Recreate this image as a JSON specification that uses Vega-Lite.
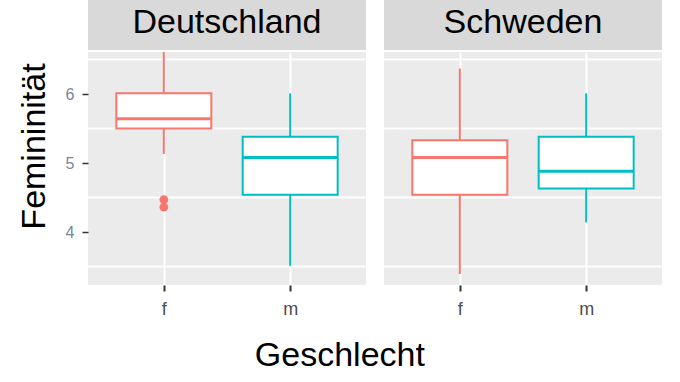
{
  "$schema": "https://vega.github.io/schema/vega-lite/v6.json",
  "padding": {"left": 17, "top": 0, "right": 0, "bottom": 0},
  "background": "white",
  "datasets": {
    "boxes": [
      {"country": "Deutschland", "sex": "f", "lower": 5.13, "q1": 5.5, "median": 5.64, "q3": 6.01, "upper": 6.65},
      {"country": "Deutschland", "sex": "m", "lower": 3.51, "q1": 4.54, "median": 5.08, "q3": 5.38, "upper": 6.01},
      {"country": "Schweden", "sex": "f", "lower": 3.39, "q1": 4.54, "median": 5.08, "q3": 5.33, "upper": 6.37},
      {"country": "Schweden", "sex": "m", "lower": 4.14, "q1": 4.63, "median": 4.88, "q3": 5.38, "upper": 6.01}
    ],
    "outliers": [
      {"country": "Deutschland", "sex": "f", "value": 4.47},
      {"country": "Deutschland", "sex": "f", "value": 4.36}
    ],
    "strips": [
      {"country": "Deutschland"},
      {"country": "Schweden"}
    ]
  },
  "title": {
    "text": "Geschlecht",
    "orient": "bottom",
    "anchor": "middle",
    "fontSize": 34,
    "fontWeight": "normal",
    "font": "Liberation Sans",
    "color": "black",
    "offset": 21
  },
  "spacing": 16,
  "hconcat": [
    {
      "spacing": 2,
      "vconcat": [
        {
          "width": 278,
          "height": 50,
          "view": {"fill": "#D9D9D9", "stroke": null},
          "data": {"name": "strips"},
          "transform": [{"filter": "datum.country === 'Deutschland'"}],
          "mark": {"type": "text", "fontSize": 34, "font": "Liberation Sans", "color": "black", "dy": -2},
          "encoding": {"text": {"field": "country"}}
        },
        {
          "width": 278,
          "height": 233,
          "view": {"fill": "#EBEBEB", "stroke": null},
          "data": {"name": "boxes"},
          "transform": [{"filter": "datum.country === 'Deutschland'"}],
          "resolve": {"axis": {"y": "independent"}},
          "layer": [
            {"mark": {"type": "rule", "color": "white", "strokeWidth": 1.3}, "encoding": {"y": {"datum": 3.5, "type": "quantitative", "axis": null}}},
            {"mark": {"type": "rule", "color": "white", "strokeWidth": 1.3}, "encoding": {"y": {"datum": 4.5, "type": "quantitative", "axis": null}}},
            {"mark": {"type": "rule", "color": "white", "strokeWidth": 1.3}, "encoding": {"y": {"datum": 5.5, "type": "quantitative", "axis": null}}},
            {"mark": {"type": "rule", "color": "white", "strokeWidth": 1.3}, "encoding": {"y": {"datum": 6.5, "type": "quantitative", "axis": null}}},
            {
              "mark": {"type": "rule", "strokeWidth": 2, "clip": true},
              "encoding": {
                "x": {
                  "field": "sex", "type": "nominal", "title": null,
                  "scale": {"type": "point", "padding": 0.6, "domain": ["f", "m"]}
                },
                "y": {
                  "field": "lower", "type": "quantitative", "title": "Femininität",
                  "scale": {"domain": [3.232, 6.609], "nice": false, "zero": false},
                  "axis": {"values": [4, 5, 6], "format": "d", "titleY": 94}
                },
                "y2": {"field": "upper"},
                "color": {"field": "sex", "type": "nominal", "scale": {"domain": ["f", "m"], "range": ["#F8766D", "#00BFC4"]}, "legend": null}
              }
            },
            {
              "mark": {"type": "bar", "fill": "white", "strokeWidth": 2, "size": 95},
              "encoding": {
                "x": {"field": "sex", "type": "nominal"},
                "y": {"field": "q1", "type": "quantitative", "axis": null},
                "y2": {"field": "q3"},
                "stroke": {"field": "sex", "type": "nominal", "scale": {"domain": ["f", "m"], "range": ["#F8766D", "#00BFC4"]}, "legend": null}
              }
            },
            {
              "mark": {"type": "tick", "size": 95, "thickness": 3, "opacity": 1},
              "encoding": {
                "x": {"field": "sex", "type": "nominal"},
                "y": {"field": "median", "type": "quantitative", "axis": null},
                "color": {"field": "sex", "type": "nominal", "legend": null}
              }
            },
            {
              "data": {"name": "outliers"},
              "transform": [{"filter": "datum.country === 'Deutschland'"}],
              "mark": {"type": "point", "filled": true, "size": 75, "opacity": 1},
              "encoding": {
                "x": {"field": "sex", "type": "nominal"},
                "y": {"field": "value", "type": "quantitative", "axis": null},
                "color": {"field": "sex", "type": "nominal", "legend": null}
              }
            }
          ]
        }
      ]
    },
    {
      "spacing": 2,
      "vconcat": [
        {
          "width": 278,
          "height": 50,
          "view": {"fill": "#D9D9D9", "stroke": null},
          "data": {"name": "strips"},
          "transform": [{"filter": "datum.country === 'Schweden'"}],
          "mark": {"type": "text", "fontSize": 34, "font": "Liberation Sans", "color": "black", "dy": -2},
          "encoding": {"text": {"field": "country"}}
        },
        {
          "width": 278,
          "height": 233,
          "view": {"fill": "#EBEBEB", "stroke": null},
          "data": {"name": "boxes"},
          "transform": [{"filter": "datum.country === 'Schweden'"}],
          "resolve": {"axis": {"y": "independent"}},
          "layer": [
            {"mark": {"type": "rule", "color": "white", "strokeWidth": 1.3}, "encoding": {"y": {"datum": 3.5, "type": "quantitative", "axis": null}}},
            {"mark": {"type": "rule", "color": "white", "strokeWidth": 1.3}, "encoding": {"y": {"datum": 4.5, "type": "quantitative", "axis": null}}},
            {"mark": {"type": "rule", "color": "white", "strokeWidth": 1.3}, "encoding": {"y": {"datum": 5.5, "type": "quantitative", "axis": null}}},
            {"mark": {"type": "rule", "color": "white", "strokeWidth": 1.3}, "encoding": {"y": {"datum": 6.5, "type": "quantitative", "axis": null}}},
            {
              "mark": {"type": "rule", "strokeWidth": 2, "clip": true},
              "encoding": {
                "x": {
                  "field": "sex", "type": "nominal", "title": null,
                  "scale": {"type": "point", "padding": 0.6, "domain": ["f", "m"]}
                },
                "y": {
                  "field": "lower", "type": "quantitative",
                  "scale": {"domain": [3.232, 6.609], "nice": false, "zero": false},
                  "axis": {"values": [4, 5, 6], "title": null, "labels": false, "ticks": false}
                },
                "y2": {"field": "upper"},
                "color": {"field": "sex", "type": "nominal", "scale": {"domain": ["f", "m"], "range": ["#F8766D", "#00BFC4"]}, "legend": null}
              }
            },
            {
              "mark": {"type": "bar", "fill": "white", "strokeWidth": 2, "size": 95},
              "encoding": {
                "x": {"field": "sex", "type": "nominal"},
                "y": {"field": "q1", "type": "quantitative", "axis": null},
                "y2": {"field": "q3"},
                "stroke": {"field": "sex", "type": "nominal", "scale": {"domain": ["f", "m"], "range": ["#F8766D", "#00BFC4"]}, "legend": null}
              }
            },
            {
              "mark": {"type": "tick", "size": 95, "thickness": 3, "opacity": 1},
              "encoding": {
                "x": {"field": "sex", "type": "nominal"},
                "y": {"field": "median", "type": "quantitative", "axis": null},
                "color": {"field": "sex", "type": "nominal", "legend": null}
              }
            }
          ]
        }
      ]
    }
  ],
  "config": {
    "font": "Liberation Sans",
    "view": {"stroke": null},
    "axis": {
      "domain": false,
      "grid": true,
      "gridColor": "white",
      "gridWidth": 2,
      "gridOpacity": 1,
      "tickColor": "#333333",
      "tickOpacity": 1
    },
    "axisX": {
      "labelAngle": 0,
      "labelFontSize": 18,
      "labelColor": "#4D4D4D",
      "labelPadding": 9,
      "tickWidth": 2,
      "tickSize": 6
    },
    "axisY": {
      "labelFontSize": 16,
      "labelColor": "#7A869A",
      "labelPadding": 8,
      "tickWidth": 1.5,
      "tickSize": 6,
      "titleFontSize": 34,
      "titleFontWeight": "normal",
      "titleColor": "black",
      "titlePadding": 14
    }
  }
}
